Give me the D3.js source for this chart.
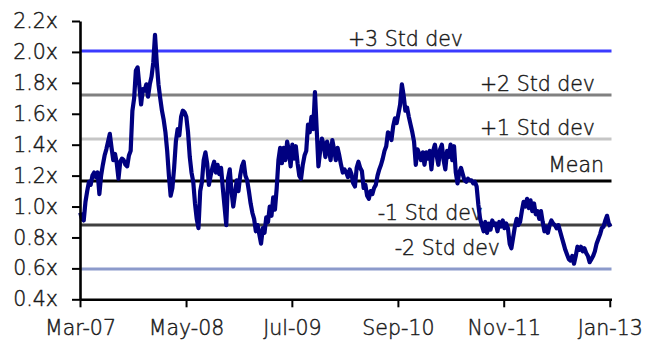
<!DOCTYPE html>
<html>
<head>
<meta charset="utf-8">
<script src="https://cdn.jsdelivr.net/npm/d3@7"></script>
<style>
  html, body { margin: 0; padding: 0; background: #fff; }
  svg { display: block; }
  text { font-family: "DejaVu Sans", sans-serif; fill: #1a1a1a; }
</style>
</head>
<body>
<svg id="chart" width="647" height="344"></svg>
<script>
// Weekly price-to-book multiple, first observation in early March 2007
const seriesStart = "2007-03-02";
const multiple = [
  0.96, 0.92, 0.91, 1.03, 1.10, 1.16, 1.14, 1.20, 1.22, 1.19, 1.22, 1.08, 1.20, 1.27, 1.33, 1.37, 1.42, 1.47, 1.38, 1.30,
  1.34, 1.28, 1.18, 1.29, 1.31, 1.30, 1.27, 1.26, 1.33, 1.36, 1.62, 1.70, 1.88, 1.90, 1.78, 1.66, 1.76, 1.75, 1.79, 1.71,
  1.79, 1.84, 1.93, 2.11, 1.93, 1.79, 1.70, 1.62, 1.56, 1.48, 1.36,
  1.20, 1.07, 1.12, 1.25, 1.42, 1.50, 1.46, 1.58, 1.62, 1.61, 1.58, 1.48, 1.32, 1.22, 1.16, 1.02, 0.92, 0.86, 1.10, 1.16,
  1.30, 1.35, 1.28, 1.14, 1.20, 1.25, 1.29, 1.22, 1.27, 1.21, 1.25, 1.12, 1.00, 0.88, 1.18, 1.24, 1.10, 1.00, 1.08, 1.17,
  1.10, 1.20, 1.26, 1.29, 1.20, 1.17, 1.10, 1.02, 0.96, 0.92, 0.84,
  0.88, 0.82, 0.76, 0.86, 0.83, 0.93, 0.90, 1.00, 0.94, 1.06, 0.98, 1.12, 1.30, 1.38, 1.28, 1.38, 1.30, 1.42, 1.36, 1.26,
  1.40, 1.31, 1.39, 1.28, 1.20, 1.18, 1.27, 1.33, 1.36, 1.53, 1.48, 1.58, 1.50, 1.74, 1.50, 1.26, 1.36, 1.44, 1.40, 1.32,
  1.42, 1.37, 1.30, 1.43, 1.37, 1.30, 1.38, 1.33, 1.27, 1.22,
  1.24, 1.22, 1.19, 1.24, 1.21, 1.15, 1.13, 1.25, 1.29, 1.25, 1.23, 1.12, 1.14, 1.07, 1.05, 1.10, 1.08, 1.12, 1.14, 1.20,
  1.24, 1.27, 1.31, 1.36, 1.39, 1.48, 1.47, 1.43, 1.52, 1.57, 1.54, 1.60, 1.66, 1.79, 1.72, 1.62, 1.64, 1.58, 1.53, 1.48,
  1.42, 1.27, 1.37, 1.34, 1.30, 1.35, 1.27, 1.35, 1.31, 1.36, 1.24,
  1.36, 1.40, 1.33, 1.27, 1.37, 1.40, 1.30, 1.24, 1.36, 1.32, 1.40, 1.30, 1.39, 1.22, 1.15, 1.22, 1.25, 1.21, 1.17, 1.16,
  1.18, 1.17, 1.17, 1.15, 1.16, 1.13, 1.01, 0.92, 0.88, 0.84, 0.90, 0.83, 0.89, 0.85, 0.91, 0.88, 0.89, 0.84, 0.90, 0.87,
  0.91, 0.86, 0.89, 0.86, 0.76, 0.73, 0.80, 0.87, 0.92, 0.88,
  0.90, 0.97, 1.03, 1.00, 1.05, 0.99, 1.04, 0.97, 1.02, 0.95, 0.97, 0.92, 0.97, 0.90, 0.84, 0.87, 0.83, 0.88, 0.91, 0.89,
  0.88, 0.86, 0.88, 0.84, 0.80, 0.76, 0.72, 0.69, 0.66, 0.65, 0.68, 0.63, 0.68, 0.74, 0.72, 0.74, 0.71, 0.73, 0.70, 0.68,
  0.64, 0.66, 0.68, 0.71, 0.76, 0.79, 0.82, 0.86, 0.87, 0.91, 0.94, 0.89, 0.87
];

// Mean and standard-deviation bands
const bandNames  = ["+3 Std dev", "+2 Std dev", "+1 Std dev", "Mean", "-1 Std dev", "-2 Std dev"];
const bandValues = [2.006, 1.721, 1.437, 1.165, 0.881, 0.596];
const bandColors = ["#3b3bff", "#808080", "#c6c6c6", "#000000", "#404040", "#8c9acb"];

// Axis ticks
const yTicks = [0.4, 0.6, 0.8, 1.0, 1.2, 1.4, 1.6, 1.8, 2.0, 2.2];
const xTickLabels = ["Mar-07", "May-08", "Jul-09", "Sep-10", "Nov-11", "Jan-13"];

const svg = d3.select("#chart");
const parseTick = d3.timeParse("%b-%y");
const parseDay = d3.timeParse("%Y-%m-%d");
const xTickDates = xTickLabels.map(parseTick);

const x = d3.scaleTime()
  .domain([parseDay("2007-03-01"), parseDay("2013-01-08")])
  .range([80, 611.5]);
const y = d3.scaleLinear().domain([0.4, 2.2]).range([299.3, 21]);

const t0 = parseDay(seriesStart);
const points = multiple.map((v, i) => ({ date: d3.timeDay.offset(t0, 7 * i), value: v }));

const fontSize = 20.5;
const fontWeight = 200;
const textInk = "#1a1a1a";

// Light text with a hairline outline for a slightly fuller stroke
function styleText(sel) {
  sel.attr("font-size", fontSize)
    .attr("font-weight", fontWeight)
    .attr("font-family", "DejaVu Sans, sans-serif")
    .attr("fill", textInk)
    .attr("stroke", textInk)
    .attr("stroke-width", 0.45);
}

// Band lines
const xr = x.range();
svg.append("g").selectAll("line")
  .data(bandValues)
  .join("line")
  .attr("x1", xr[0]).attr("x2", xr[1])
  .attr("y1", d => y(d)).attr("y2", d => y(d))
  .attr("stroke", (d, i) => bandColors[i])
  .attr("stroke-width", 3);

// Band labels: right edge and offset above the line
const labelLayout = [
  { end: 463, dy: -4.5, ref: 0 },
  { end: 595, dy: -4,   ref: 1 },
  { end: 595, dy: -4,   ref: 2 },
  { end: 604, dy: -9.5, ref: 3 },
  { end: 483, dy: -5,   ref: 4 },
  { end: 500, dy: -13.5, ref: 5 }
];
svg.append("g").selectAll("text")
  .data(bandNames)
  .join("text")
  .attr("x", (d, i) => labelLayout[i].end)
  .attr("y", (d, i) => y(bandValues[labelLayout[i].ref]) + labelLayout[i].dy)
  .attr("text-anchor", "end")
  .call(styleText)
  .text(d => d);

// Valuation series
svg.append("path")
  .datum(points)
  .attr("fill", "none")
  .attr("stroke", "#000080")
  .attr("stroke-width", 4.2)
  .attr("stroke-linejoin", "round")
  .attr("d", d3.line().x(d => x(d.date)).y(d => y(d.value)));

// Axes
const yAxis = d3.axisLeft(y)
  .tickValues(yTicks)
  .tickFormat(d => d3.format(".1f")(d) + "x")
  .tickSize(8).tickSizeOuter(0).tickPadding(14);
const gy = svg.append("g").attr("transform", "translate(80,0)").call(yAxis);

const xAxis = d3.axisBottom(x)
  .tickValues(xTickDates)
  .tickFormat(d3.timeFormat("%b-%y"))
  .tickSize(8).tickSizeOuter(0).tickPadding(13);
const gx = svg.append("g").attr("transform", "translate(0,299.3)").call(xAxis);

[gy, gx].forEach(g => {
  g.select(".domain").attr("stroke", "#000").attr("stroke-width", 2.6);
  g.selectAll(".tick line").attr("stroke", "#000").attr("stroke-width", 2);
  g.selectAll(".tick text").call(styleText);
});
</script>
</body>
</html>
